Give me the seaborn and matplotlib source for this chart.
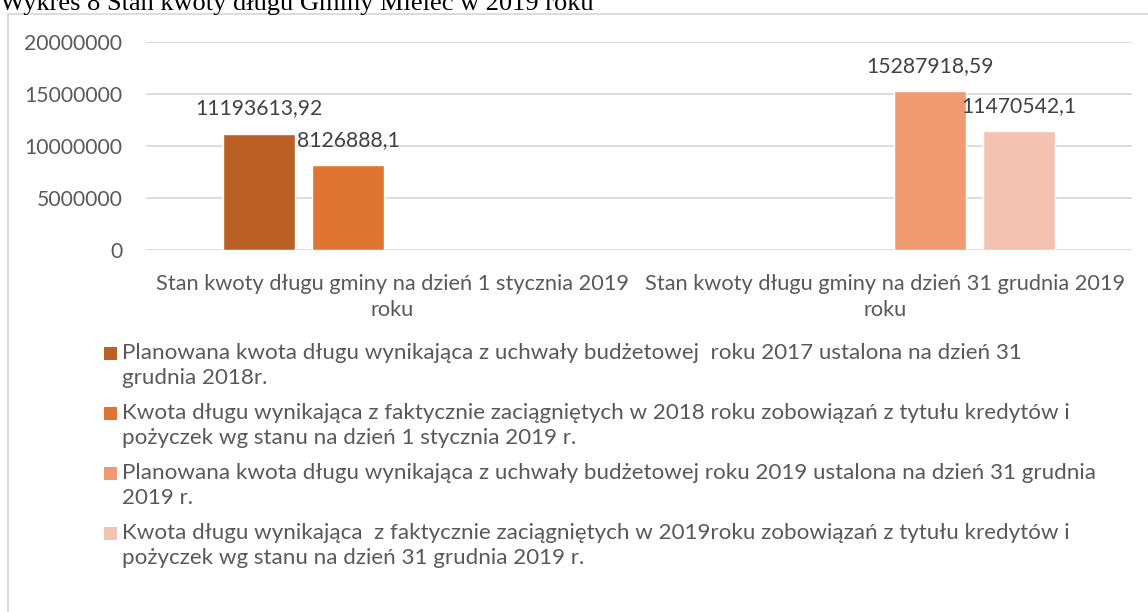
import numpy as np
import pandas as pd
import matplotlib
matplotlib.use("Agg")
import matplotlib.pyplot as plt
from matplotlib.patches import Rectangle
import seaborn as sns

# dane
categories = [
    "Stan kwoty długu gminy na dzień 1 stycznia 2019\nroku",
    "Stan kwoty długu gminy na dzień 31 grudnia 2019\nroku",
]
series_labels = [
    "Planowana kwota długu wynikająca z uchwały budżetowej  roku 2017 ustalona na dzień 31\ngrudnia 2018r.",
    "Kwota długu wynikająca z faktycznie zaciągniętych w 2018 roku zobowiązań z tytułu kredytów i\npożyczek wg stanu na dzień 1 stycznia 2019 r.",
    "Planowana kwota długu wynikająca z uchwały budżetowej roku 2019 ustalona na dzień 31 grudnia\n2019 r.",
    "Kwota długu wynikająca  z faktycznie zaciągniętych w 2019roku zobowiązań z tytułu kredytów i\npożyczek wg stanu na dzień 31 grudnia 2019 r.",
]
plan_2017 = [11193613.92, np.nan]
fakt_2018 = [8126888.1, np.nan]
plan_2019 = [np.nan, 15287918.59]
fakt_2019 = [np.nan, 11470542.1]
colors = ["#BA6024", "#DF7530", "#F09A72", "#F4C2B0"]
yticks = [0, 5000000, 10000000, 15000000, 20000000]
title = "Wykres 8 Stan kwoty długu Gminy Mielec w 2019 roku"

rows = []
for lab, vals in zip(series_labels, [plan_2017, fakt_2018, plan_2019, fakt_2019]):
    for cat, v in zip(categories, vals):
        rows.append({"kategoria": cat, "seria": lab, "kwota": v})
df = pd.DataFrame(rows)

sns.set_theme(style="white")
plt.rcParams["font.family"] = ["Lato", "DejaVu Sans"]

NUM_SIZE = 15.2
CAT_SIZE = 15.7
TXT_SIZE = 16.1

W, H = 1148, 612
fig = plt.figure(figsize=(W / 100, H / 100), dpi=100)
ax = fig.add_axes([146 / W, 1 - 250 / H, (1132 - 146) / W, (250 - 42) / H])

sns.barplot(data=df, x="kategoria", y="kwota", hue="seria", order=categories,
            hue_order=series_labels, palette=colors, saturation=1, width=0.722,
            gap=0.2, errorbar=None, legend=False, ax=ax)

ax.set_xlim(-0.5, 1.5)
ax.set_ylim(0, 20000000)
ax.set_yticks(yticks)
ax.set_yticklabels([str(t) for t in yticks])
ax.set_xlabel("")
ax.set_ylabel("")
ax.grid(axis="y", color="#D9D9D9", lw=1.3)
ax.set_axisbelow(True)
for s in ax.spines.values():
    s.set_visible(False)
ax.tick_params(axis="both", length=0, colors="#595959")
ax.tick_params(axis="y", pad=17, labelsize=NUM_SIZE)
ax.tick_params(axis="x", pad=17.5, labelsize=CAT_SIZE)
for t in ax.get_xticklabels():
    t.set_linespacing(1.33)


def fmt(v):
    return ("%.2f" % v).rstrip("0").rstrip(".").replace(".", ",")


for cont in ax.containers:
    for bar in cont:
        h = bar.get_height()
        if not np.isfinite(h) or h == 0:
            continue
        ax.annotate(fmt(h), (bar.get_x() + bar.get_width() / 2, h),
                    xytext=(0, 18), textcoords="offset points",
                    ha="center", va="center", fontsize=NUM_SIZE, color="#404040")

# ramka wykresu (ucięta z prawej i u dołu)
fig.add_artist(Rectangle((8 / W, -0.05), 1.2, 1.05 - 14 / H, fill=False,
                         edgecolor="#D9D9D9", lw=1.3, transform=fig.transFigure))

# tytuł - ucięty u góry
fig.text(0.0, 1 - 10 / H, title, fontsize=19, family="Liberation Serif",
         color="black", va="baseline", ha="left")

# legenda
for i, (lab, col) in enumerate(zip(series_labels, colors)):
    y0 = 353 + i * 60
    fig.add_artist(Rectangle((104 / W, 1 - (y0 + 6.5) / H), 13 / W, 13 / H,
                             facecolor=col, edgecolor="none",
                             transform=fig.transFigure))
    for j, line in enumerate(lab.split("\n")):
        fig.text(122 / W, 1 - (y0 + j * 25) / H, line, fontsize=TXT_SIZE,
                 color="#595959", va="center", ha="left")

fig.savefig("out.png", dpi=100)
